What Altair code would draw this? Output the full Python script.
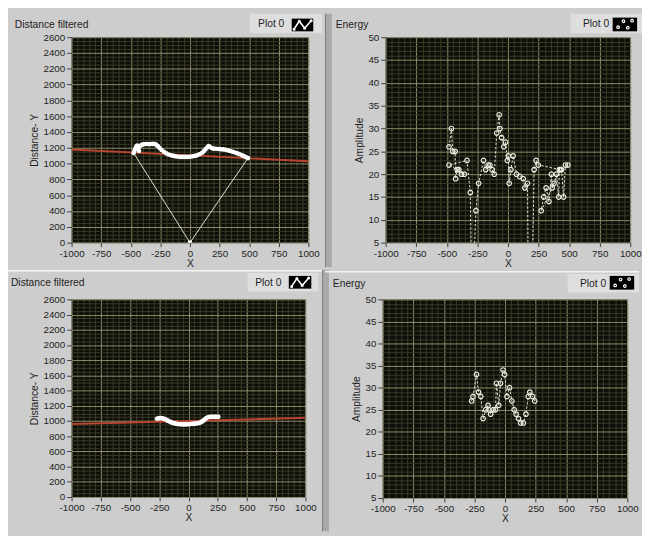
import altair as alt
import pandas as pd

# ---------------- data ----------------
# top-left: Distance filtered (points + closing lines to the origin)
tl_x = [-476, -468, -460, -452, -445, -438, -430, -420, -405, -390,
        -375, -360, -345, -330, -315, -300, -285, -270, -255, -240,
        -220, -200, -180, -160, -140, -120, -100, -80, -60, -40,
        -20, 0, 20, 40, 60, 80, 100, 115, 130, 145,
        158, 170, 185, 200, 220, 240, 260, 280, 300, 320,
        340, 360, 380, 400, 420, 440, 460, 475, 490]
tl_y = [1135, 1165, 1195, 1220, 1230, 1190, 1160, 1225, 1240, 1245,
        1248, 1248, 1245, 1248, 1250, 1248, 1240, 1220, 1195, 1172,
        1150, 1130, 1115, 1105, 1098, 1092, 1088, 1085, 1085, 1085,
        1085, 1088, 1092, 1098, 1105, 1118, 1135, 1155, 1180, 1205,
        1222, 1210, 1195, 1190, 1188, 1186, 1183, 1180, 1175, 1168,
        1160, 1150, 1140, 1130, 1118, 1105, 1092, 1080, 1070]
tl_origin_x = [0]
tl_origin_y = [0]
tl_fit_x = [-1000, 1000]
tl_fit_y = [1180, 1030]

# top-right: Energy (order of acquisition)
tr_x = [-482, -462, -452, -432, -428, -415, -402, -380, -356, -482,
        -335, -308, -300, -280, -262, -240, -200, -182, -162, -148,
        -130, -112, -92, -72, -66, -52, -34, -20, -5, 3,
        10, 24, 42, 70, 96, 125, 138, 160, 165, 200,
        214, 230, 248, 430, 272, 292, 312, 335, 355, 362,
        377, 396, 415, 420, 438, 455, 470, 490]
tr_y = [26, 30, 25, 25, 19, 21, 21, 20, 20, 22,
        23, 16, 0, 0, 12, 18, 23, 21, 22, 22,
        21, 20, 29, 33, 30, 28, 26, 27, 23, 24,
        18, 21, 24, 20, 19.5, 19, 17, 18, 0, 0,
        21, 23, 22, 21, 12, 15, 17, 14, 20, 17,
        18, 20, 15, 21, 21, 15, 22, 22]

# bottom-left: Distance filtered
bl_x = [-270, -258, -246, -234, -222, -210, -198, -186, -174, -162,
        -150, -138, -126, -114, -102, -90, -78, -66, -54, -42,
        -30, -18, -6, 6, 18, 30, 42, 54, 66, 78,
        90, 102, 114, 126, 138, 150, 162, 174, 186, 198,
        210, 222, 234, 246, 255]
bl_y = [1030, 1035, 1038, 1038, 1035, 1030, 1022, 1012, 1002, 993,
        985, 978, 972, 967, 963, 960, 958, 957, 956, 956,
        956, 956, 957, 958, 960, 962, 964, 966, 968, 971,
        975, 982, 992, 1005, 1020, 1035, 1046, 1052, 1055, 1056,
        1056, 1056, 1055, 1055, 1055]
bl_fit_x = [-1000, 1000]
bl_fit_y = [960, 1042]

# bottom-right: Energy
br_x = [-273, -262, -233, -217, -198, -179, -158, -139, -131, -118,
        -96, -78, -70, -51, -37, -16, -3, 16, 37, 56,
        75, 91, 110, 128, 150, 171, 190, 203, 225, 243]
br_y = [27, 28, 33, 29, 28, 23, 25, 26, 25, 24,
        25, 25, 31, 26, 31, 34, 33, 28, 30, 27,
        25, 24, 23, 22, 22, 24, 28, 29, 28, 27]

# ---------------- style ----------------
FONT = "'Liberation Sans Narrow', 'Arial Narrow', 'Liberation Sans', sans-serif"
BG = "#cdcdcd"
MAJOR = "#8e8e6c"
MINOR = "#3a3a29"
TXT = "#1e1e1e"
ONE = pd.DataFrame({"k": [0]})


def lin_axis(lo, hi, minor, major, title):
    vals = list(range(lo, hi + 1, minor))
    test = f"datum.value % {major} === 0"
    return alt.Axis(
        values=vals,
        title=title,
        grid=True,
        gridColor={"condition": {"test": test, "value": MAJOR}, "value": MINOR},
        gridWidth=1,
        tickColor={"condition": {"test": test, "value": "#3c3c3c"}, "value": "transparent"},
        labelExpr=f"{test} ? '' + datum.value : ''",
        labelOverlap=False,
        labelFlush=False,
    )


def rect(x1, x2, y1, y2, color, opacity=1.0):
    return alt.Chart(ONE).mark_rect(color=color, opacity=opacity).encode(
        x=alt.value(x1), x2=alt.value(x2), y=alt.value(y1), y2=alt.value(y2))


def text(t, x, y, align="left"):
    return alt.Chart(ONE).mark_text(
        text=t, align=align, baseline="middle", font=FONT, fontSize=10.5, color=TXT
    ).encode(x=alt.value(x), y=alt.value(y))


def icon(x, y, kind):
    if kind == "line":
        path = ("M -0.8 0.4 L -0.3 -0.35 L 0.2 0.3 L 0.8 -0.4 "
                "M -0.85 0.4 a 0.07 0.07 0 1 0 0.14 0 a 0.07 0.07 0 1 0 -0.14 0 "
                "M -0.37 -0.35 a 0.07 0.07 0 1 0 0.14 0 a 0.07 0.07 0 1 0 -0.14 0 "
                "M 0.13 0.3 a 0.07 0.07 0 1 0 0.14 0 a 0.07 0.07 0 1 0 -0.14 0 "
                "M 0.73 -0.4 a 0.07 0.07 0 1 0 0.14 0 a 0.07 0.07 0 1 0 -0.14 0")
        sw = 1.6
    else:
        path = ("M -0.75 0.25 a 0.12 0.12 0 1 0 0.24 0 a 0.12 0.12 0 1 0 -0.24 0 "
                "M -0.25 -0.3 a 0.12 0.12 0 1 0 0.24 0 a 0.12 0.12 0 1 0 -0.24 0 "
                "M 0.15 0.3 a 0.12 0.12 0 1 0 0.24 0 a 0.12 0.12 0 1 0 -0.24 0 "
                "M 0.55 -0.35 a 0.12 0.12 0 1 0 0.24 0 a 0.12 0.12 0 1 0 -0.24 0")
        sw = 1.2
    return alt.Chart(ONE).mark_point(
        shape=path, size=484, filled=False, stroke="white", strokeWidth=sw, opacity=1
    ).encode(x=alt.value(x), y=alt.value(y))


def header(frame, title, tpos, box, ppos, ibox, ikind, sep=False, white=None):
    fx1, fx2, fy1, fy2 = frame
    layers = [rect(fx1, fx2, fy1, fy2, BG, opacity=0.0)]
    if sep:
        layers.append(rect(-62, -55, fy1, fy2, "#a9a9a9"))
        layers.append(rect(-62, -61, fy1, fy2, "#7c7c7c"))
    if white is not None:
        layers.append(rect(fx1, fx2, white, white + 1.6, "#f4f4f4"))
    layers.append(text(title, tpos[0], tpos[1]))
    layers.append(rect(box[0], box[1], box[2], box[3], "#dedede"))
    layers.append(text("Plot 0", ppos[0], ppos[1], align="center"))
    layers.append(rect(ibox[0], ibox[1], ibox[2], ibox[3], "#000000"))
    layers.append(icon((ibox[0] + ibox[1]) / 2, (ibox[2] + ibox[3]) / 2, ikind))
    return layers


def distance_panel(W, H, px, py, ox, oy, fx, fy, deco):
    X = alt.X("x:Q", scale=alt.Scale(domain=[-1000, 1000], nice=False, zero=False),
              axis=lin_axis(-1000, 1000, 50, 250, "X"))
    Y = alt.Y("y:Q", scale=alt.Scale(domain=[0, 2600], nice=False, zero=False),
              axis=lin_axis(0, 2600, 50, 200, "Distance- Y"))
    layers = list(deco)
    fit = pd.DataFrame({"x": fx, "y": fy})
    layers.append(alt.Chart(fit).mark_line(color="#b8452f", strokeWidth=2, clip=True)
                  .encode(x=X, y=Y))
    if ox:
        path_x = ox + px + ox
        path_y = oy + py + oy
        line = pd.DataFrame({"x": path_x, "y": path_y, "i": list(range(len(path_x)))})
        layers.append(alt.Chart(line).mark_line(color="#e2e2d4", strokeWidth=1, clip=True)
                      .encode(x=X, y=Y, order="i:Q"))
    pts = pd.DataFrame({"x": px + ox, "y": py + oy})
    layers.append(alt.Chart(pts).mark_circle(color="white", size=22, opacity=1, clip=True)
                  .encode(x=X, y=Y))
    return alt.layer(*layers).properties(width=W, height=H)


def energy_panel(W, H, ex, ey, deco):
    X = alt.X("x:Q", scale=alt.Scale(domain=[-1000, 1000], nice=False, zero=False),
              axis=lin_axis(-1000, 1000, 50, 250, "X"))
    Y = alt.Y("y:Q", scale=alt.Scale(domain=[5, 50], nice=False, zero=False),
              axis=lin_axis(5, 50, 1, 5, "Amplitude"))
    df = pd.DataFrame({"x": ex, "y": ey, "i": list(range(len(ex)))})
    layers = list(deco)
    layers.append(alt.Chart(df).mark_line(color="#e4e4d6", strokeWidth=1, strokeDash=[2.5, 1.8], clip=True)
                  .encode(x=X, y=Y, order="i:Q"))
    layers.append(alt.Chart(df).mark_point(shape="circle", size=22, filled=False, color="#ecece0",
                                           strokeWidth=1.2, opacity=1, clip=True)
                  .encode(x=X, y=Y))
    return alt.layer(*layers).properties(width=W, height=H)


tl = distance_panel(
    242, 210, tl_x, tl_y, tl_origin_x, tl_origin_y, tl_fit_x, tl_fit_y,
    header((-62, 259, -24, 235), "Distance filtered", (-58, -12),
           (182, 256, -24, -4), (204, -13), (225, 247, -19, -6), "line"))
tr = energy_panel(
    250, 210, tr_x, tr_y,
    header((-59, 262, -24, 235), "Energy", (-51, -12),
           (189, 262, -24, -4), (215, -13), (232, 257, -20, -6), "dots", sep=True))
bl = distance_panel(
    239, 202, bl_x, bl_y, [], [], bl_fit_x, bl_fit_y,
    header((-65, 256, -31, 236), "Distance filtered", (-62, -17),
           (180, 252, -27, -8), (201, -17), (222, 245, -24, -11), "line", white=-30))
br = energy_panel(
    250, 203, br_x, br_y,
    header((-59, 262, -30, 237), "Energy", (-51, -16),
           (189, 262, -26, -7), (215, -16), (232, 257, -24, -10), "dots", sep=True, white=-29))

chart = alt.vconcat(
    alt.hconcat(tl, tr, spacing=0),
    alt.hconcat(bl, br, spacing=0),
    spacing=0,
).properties(
    padding=0, background=BG
).configure_view(
    fill="#0e0e08", strokeWidth=0
).configure_axis(
    domain=False,
    labelFont=FONT, labelFontSize=10, labelColor=TXT, labelPadding=1,
    titleFont=FONT, titleFontSize=10.5, titleFontWeight="normal", titleColor=TXT,
    tickSize=4, tickWidth=1,
).configure_axisX(
    titlePadding=0, labelPadding=2
).configure_axisY(
    titlePadding=4, labelPadding=2, tickSize=5
)

chart.save("out.html", embed_options={"renderer": "svg", "actions": False})
